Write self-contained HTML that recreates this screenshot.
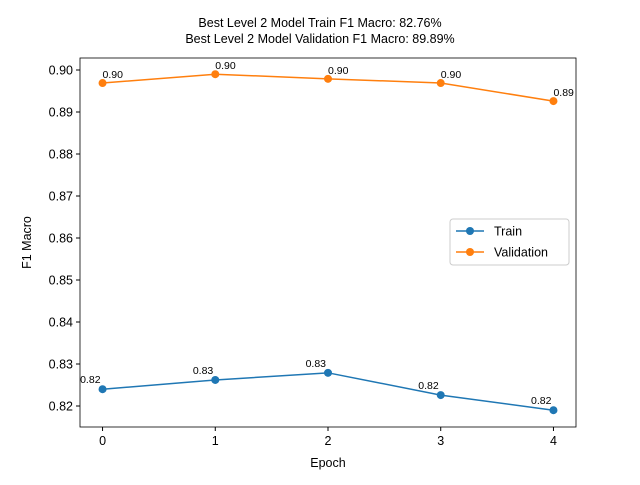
<!DOCTYPE html>
<html><head><meta charset="utf-8"><style>body{margin:0;background:#fff}svg{font-family:"Liberation Sans",sans-serif}</style></head>
<body>
<svg id="c" width="640" height="480" viewBox="0 0 640 480"></svg>
<script>
const epochs=[0,1,2,3,4];
const trainVals=[0.8240,0.8262,0.8279,0.8226,0.8190];
const valVals=[0.8969,0.8990,0.8979,0.8969,0.8926];
const yTicks=[0.82,0.83,0.84,0.85,0.86,0.87,0.88,0.89,0.90];
const L=80,R=576,T=58,B=427,xmin=-0.2,xmax=4.2,ymin=0.815,ymax=0.90286;
const X=v=>L+(v-xmin)/(xmax-xmin)*(R-L);
const Y=v=>B-(v-ymin)/(ymax-ymin)*(B-T);
const s=document.getElementById('c');const NS='http://www.w3.org/2000/svg';
function el(t,a,p){const e=document.createElementNS(NS,t);for(const k in a)e.setAttribute(k,a[k]);(p||s).appendChild(e);return e;}
function txt(x,y,str,a){const e=el('text',Object.assign({x:x,y:y,'font-size':12.5,fill:'#000'},a||{}));e.textContent=str;return e;}
let t1=txt(320,27,'Best Level 2 Model Train F1 Macro: 82.76%',{'text-anchor':'middle'});


let t2=txt(320,43,'Best Level 2 Model Validation F1 Macro: 89.89%',{'text-anchor':'middle'});


epochs.forEach(e=>{el('line',{x1:X(e),x2:X(e),y1:B,y2:B+4,stroke:'#000'});
 let t=txt(X(e),B+18,String(e),{'text-anchor':'middle'});
 
 });
yTicks.forEach(v=>{el('line',{x1:L-4,x2:L,y1:Y(v),y2:Y(v),stroke:'#000'});
 let t=txt(L-7,Y(v)+4.5,v.toFixed(2),{'text-anchor':'end'});
 
 });
let xt=txt((L+R)/2,467,'Epoch',{'text-anchor':'middle'});


let yt=txt(31,(T+B)/2,'F1 Macro',{'text-anchor':'middle',transform:`rotate(-90 31 ${(T+B)/2})`});


function series(vals,color,name,above){
 const g=el('g',{});
 
 
 el('polyline',{points:vals.map((v,i)=>X(epochs[i])+','+Y(v)).join(' '),fill:'none',stroke:color,'stroke-width':1.5},g);
 vals.forEach((v,i)=>{const c=el('circle',{cx:X(epochs[i]),cy:Y(v),r:4,fill:color},g);
  
  
  const t=above?txt(X(epochs[i]),Y(v)-5,v.toFixed(2),{'font-size':10.5}):txt(X(epochs[i])-2,Y(v)-6,v.toFixed(2),{'font-size':10.5,'text-anchor':'end'});
  
  
  g.appendChild(t);});
}
series(trainVals,'#1f77b4','train',false);
series(valVals,'#ff7f0e','validation',true);
el('rect',{x:L,y:T,width:R-L,height:B-T,fill:'none',stroke:'#000','stroke-width':0.8});
const lg=el('g',{});


el('rect',{x:450,y:219,width:119,height:46,rx:3,fill:'#fff',stroke:'#ccc'},lg);
[['Train','#1f77b4',231],['Validation','#ff7f0e',252]].forEach(([n,c,y])=>{
 el('line',{x1:456,x2:484,y1:y,y2:y,stroke:c,'stroke-width':1.5},lg);
 el('circle',{cx:470,cy:y,r:4,fill:c},lg);
 const t=txt(494,y+4.5,n,{'font-size':12.5});
 
 
 lg.appendChild(t);});
</script>
</body></html>
